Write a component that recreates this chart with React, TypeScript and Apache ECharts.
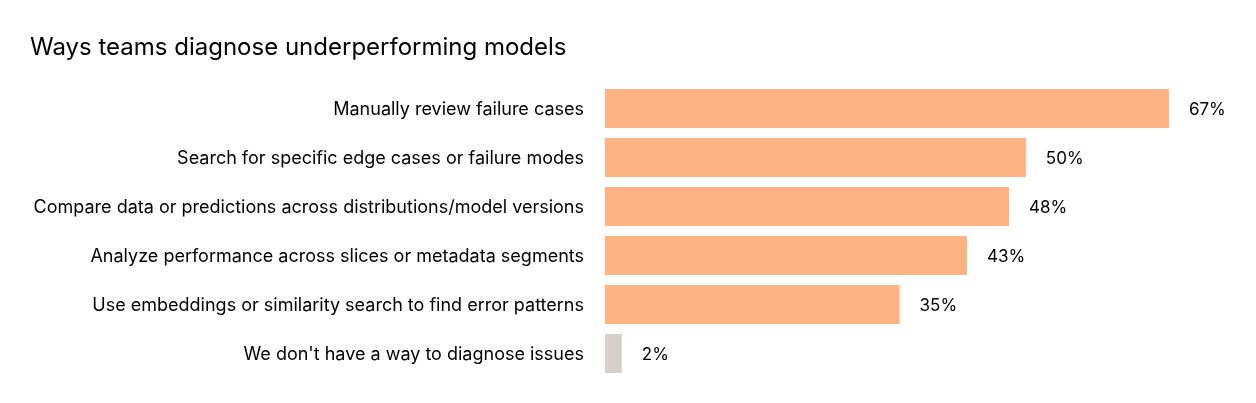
import React, { useEffect, useRef } from "react";
import * as echarts from "echarts";

const categories = [
  "Manually review failure cases",
  "Search for specific edge cases or failure modes",
  "Compare data or predictions across distributions/model versions",
  "Analyze performance across slices or metadata segments",
  "Use embeddings or similarity search to find error patterns",
  "We don't have a way to diagnose issues",
];
const values = [67, 50, 48, 43, 35, 2];
const barColors = ["#FFB283", "#FFB283", "#FFB283", "#FFB283", "#FFB283", "#D5CFCB"];
const title = "Ways teams diagnose underperforming models";

export default function App() {
  const ref = useRef<HTMLDivElement>(null);
  useEffect(() => {
    if (!ref.current) return;
    const chart = echarts.init(ref.current, null, { renderer: "svg" });
    chart.setOption({
      animation: false,
      title: {
        text: title,
        left: 25,
        top: 29,
        textStyle: { fontFamily: "Inter", fontSize: 24, fontWeight: "normal", color: "#000" },
      },
      grid: { left: 605, right: 19.7, top: 84, bottom: 25, containLabel: false },
      xAxis: {
        type: "value",
        min: 0,
        max: 75,
        show: false,
      },
      yAxis: {
        type: "category",
        data: categories,
        inverse: true,
        axisLine: { show: false },
        axisTick: { show: false },
        splitLine: { show: false },
        axisLabel: {
          margin: 21,
          fontFamily: "Inter",
          fontSize: 18,
          color: "#000",
        },
      },
      series: [
        {
          type: "bar",
          data: values.map((v, i) => ({ value: v, itemStyle: { color: barColors[i] } })),
          barWidth: 39,
          label: {
            show: true,
            position: "right",
            distance: 20,
            formatter: "{c}%",
            fontFamily: "Inter",
            fontSize: 17,
            color: "#000",
          },
        },
      ],
    });
    return () => chart.dispose();
  }, []);
  return <div ref={ref} style={{ position: "fixed", left: 0, top: 0, width: 1256, height: 403 }} />;
}
